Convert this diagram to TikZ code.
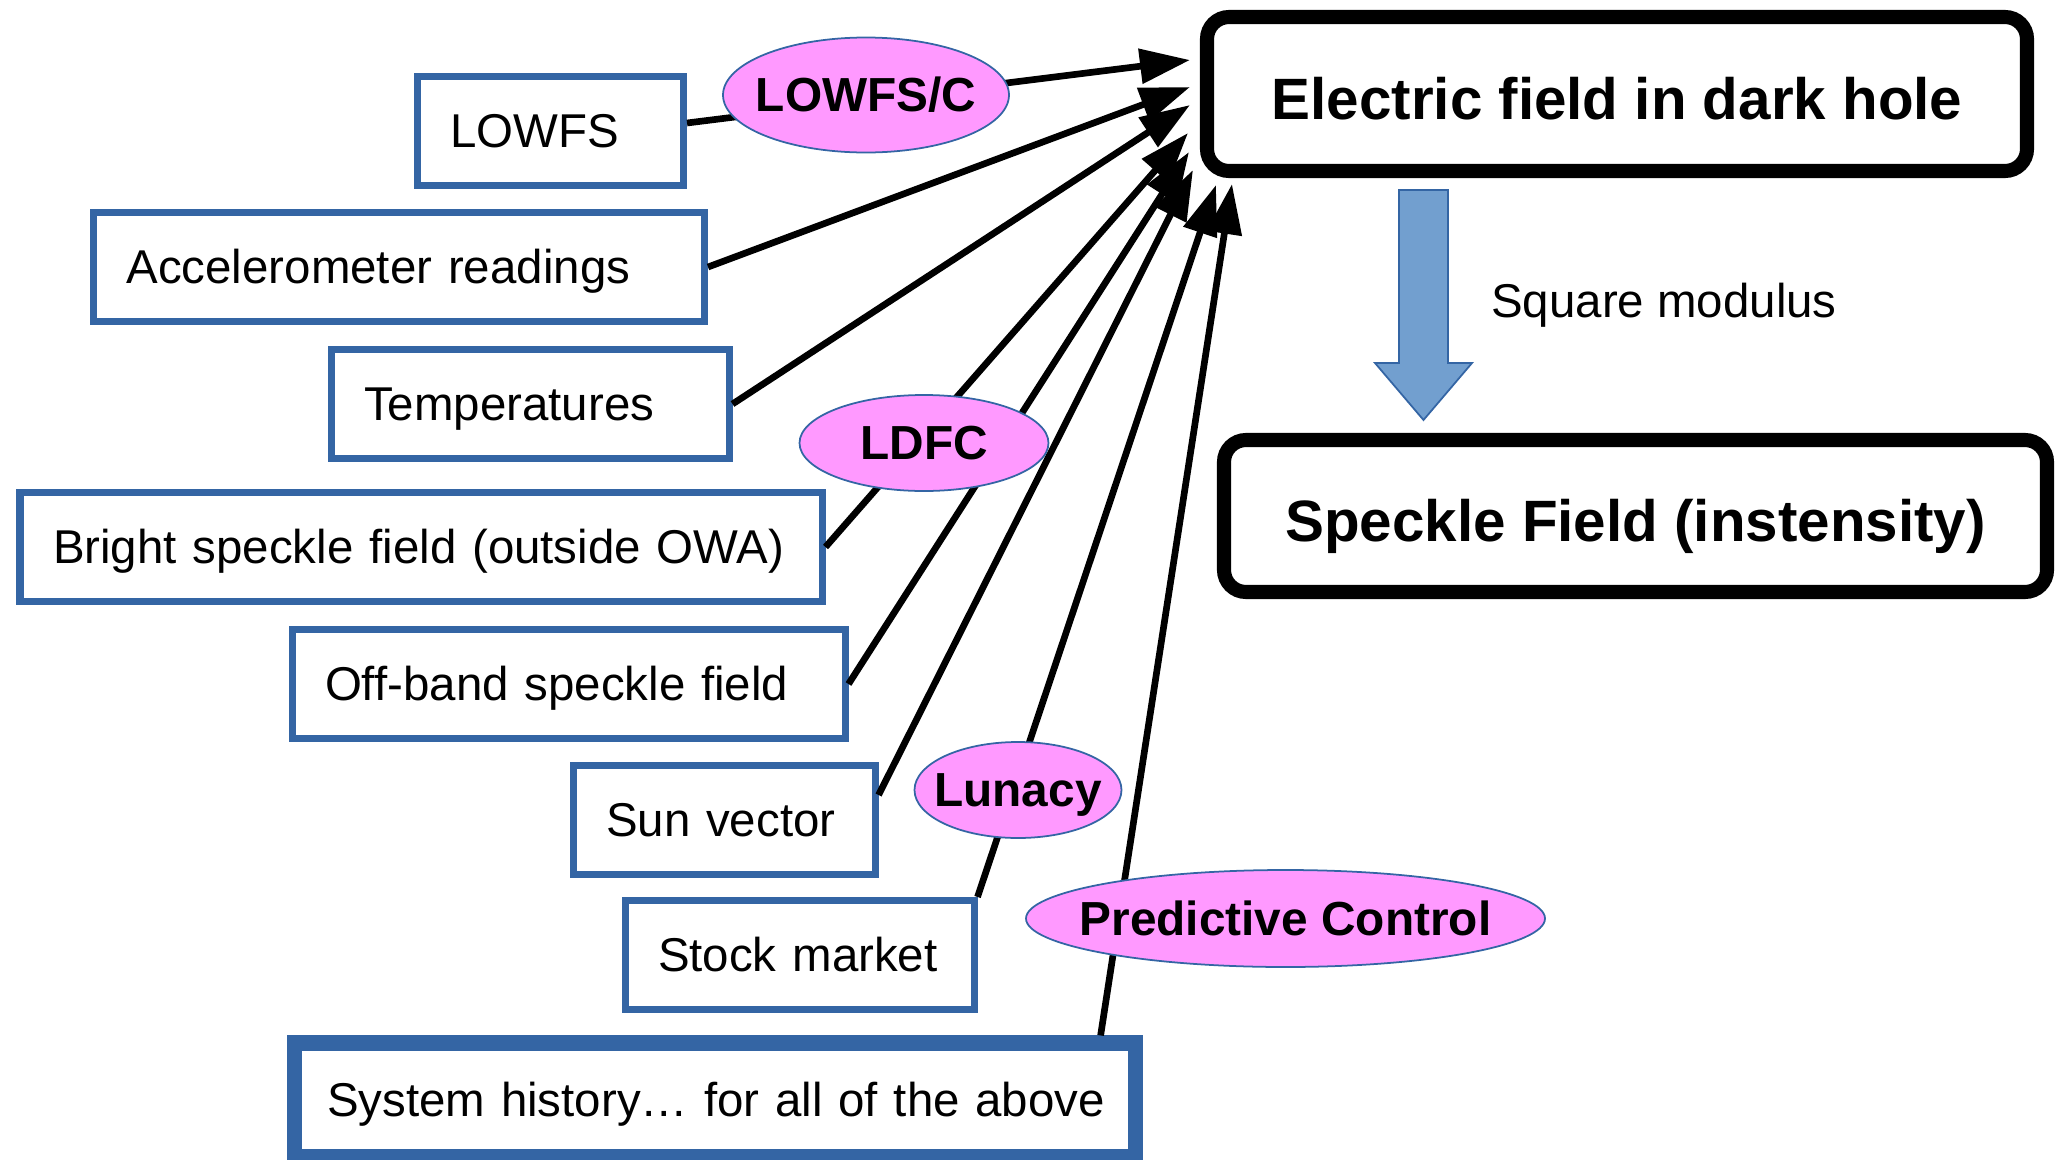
\documentclass[tikz,border=0pt]{standalone}
\usepackage{fontspec}
\setmainfont{Liberation Sans}
\usetikzlibrary{shapes, arrows.meta, positioning, calc}

\definecolor{boxblue}{RGB}{52, 101, 164}
\definecolor{tagpink}{RGB}{255, 153, 255}
\definecolor{arrowblue}{RGB}{114, 159, 207}

\tikzset{
  srcbox/.style={draw=boxblue, line width=2pt, anchor=west, align=left, inner xsep=0.33cm, inner ysep=0pt, minimum height=1.09cm, text height=12.2pt, text depth=2.9pt, font=\fontsize{13.5}{16}\selectfont},
  histbox/.style={srcbox, line width=4.3pt, minimum height=1.14cm},
  bigbox/.style={draw, line width=4pt, rounded corners=0.22cm, text height=18pt, text depth=3.5pt, font=\fontsize{16.6}{20}\selectfont\bfseries},
  tag/.style={ellipse, draw=boxblue, line width=0.5pt, fill=tagpink, inner xsep=-1cm, inner ysep=-0.2cm, text height=12.3pt, text depth=2.9pt, font=\fontsize{13.6}{16}\selectfont\bfseries},
  feed/.style={-{Triangle[length=5mm, width=3.4mm]}, line width=1.9pt}
}

\begin{document}
\begin{tikzpicture}
  \useasboundingbox (0,0) rectangle (20.63,-11.6);

  % Inputs
  \node[srcbox, text width=2.00cm] (lowfs) at (4.14, -1.31) {LOWFS};
  \node[srcbox, text width=5.45cm] (accel) at (0.90, -2.67) {Accelerometer readings};
  \node[srcbox, text width=3.32cm] (temps) at (3.275, -4.04) {Temperatures};
  \node[srcbox, text width=7.36cm] (bright) at (0.165, -5.47) {Bright speckle field (outside OWA)};
  \node[srcbox, text width=4.87cm] (offband) at (2.885, -6.84) {Off-band speckle field};
  \node[srcbox, text width=2.36cm] (sun) at (5.695, -8.20) {Sun vector};
  \node[srcbox, text width=2.83cm] (stock) at (6.215, -9.55) {Stock market};
  \node[histbox, text width=7.75cm] (history) at (2.865, -11.00) {\mbox{System history… for all of the above}};

  % Fields
  \node[bigbox, minimum width=8.20cm, minimum height=1.54cm] (efield) at (16.17, -0.94) {Electric field in dark hole};
  \node[bigbox, minimum width=8.23cm, minimum height=1.52cm] (speckle) at (16.355, -5.16) {Speckle Field (instensity)};

  \draw[draw=boxblue, line width=0.5pt, fill=arrowblue] (13.99,-1.90) -- (14.48,-1.90) -- (14.48,-3.63) -- (14.72,-3.63) -- (14.235,-4.20) -- (13.75,-3.63) -- (13.99,-3.63) -- cycle;
  \node[font=\fontsize{13.5}{16}\selectfont] (sqmod) at (16.64, -3.05) {Square modulus};

  % Arrows into the dark hole field
  \draw[feed] ([yshift=0.08cm]lowfs.east) -- ([shift={(-0.10,1.18)}]efield.south west);
  \draw[feed] (accel.east) -- ([shift={(-0.10,0.91)}]efield.south west);
  \draw[feed] (temps.east) -- ([shift={(-0.10,0.73)}]efield.south west);
  \draw[feed] (bright.east) -- ([shift={(-0.12,0.45)}]efield.south west);
  \draw[feed] (offband.east) -- ([shift={(-0.11,0.26)}]efield.south west);
  \draw[feed] ([yshift=0.25cm]sun.east) -- ([shift={(-0.07,0.08)}]efield.south west);
  \draw[feed] (stock.north east) -- ([shift={(0.16,-0.07)}]efield.south west);
  \draw[feed] ([xshift=-0.42cm]history.north east) -- ([shift={(0.32,-0.06)}]efield.south west);

  % Methods
  \node[tag, minimum width=2.86cm, minimum height=1.15cm] (lowfsc) at (8.66, -0.95) {LOWFS/C};
  \node[tag, minimum width=2.49cm, minimum height=0.96cm] (ldfc) at (9.24, -4.43) {LDFC};
  \node[tag, minimum width=2.07cm, minimum height=0.96cm] (lunacy) at (10.18, -7.90) {Lunacy};
  \node[tag, minimum width=5.19cm, minimum height=0.97cm] (predict) at (12.855, -9.185) {Predictive Control};
\end{tikzpicture}
\end{document}
